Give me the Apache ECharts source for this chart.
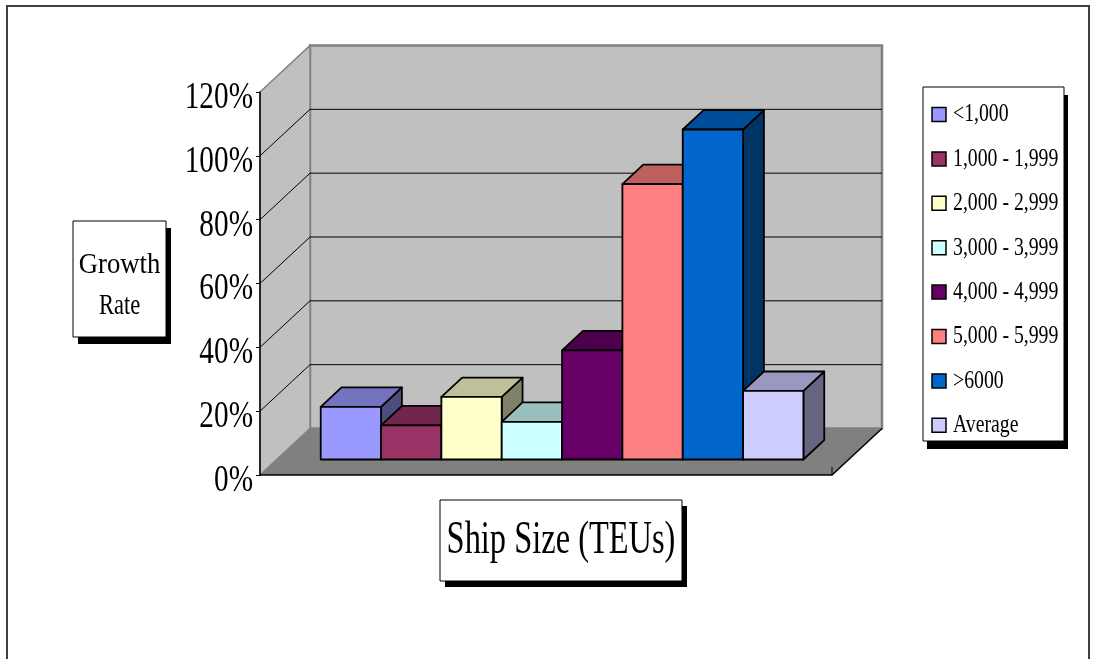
<!DOCTYPE html>
<html>
<head>
<meta charset="utf-8">
<title>Growth Rate by Ship Size</title>
<script src="https://cdn.jsdelivr.net/npm/echarts@6/dist/echarts.min.js"></script>
<style>
  html, body { margin: 0; padding: 0; background: #ffffff; }
  #chart { width: 1095px; height: 659px; }
</style>
</head>
<body>
<div id="chart"></div>
<script>
// ---- data ----
const shipSizes = ['<1,000', '1,000 - 1,999', '2,000 - 2,999', '3,000 - 3,999',
                   '4,000 - 4,999', '5,000 - 5,999', '>6000', 'Average'];
const growthRate = [0.165, 0.107, 0.196, 0.118, 0.342, 0.863, 1.034, 0.215];
const yTicks = [0, 0.2, 0.4, 0.6, 0.8, 1.0, 1.2];
const yTickLabels = ['0%', '20%', '40%', '60%', '80%', '100%', '120%'];
const yAxisTitle = ['Growth', 'Rate'];
const xAxisTitle = 'Ship Size (TEUs)';

// ---- styling ----
const barColors = ['#9999FF', '#993366', '#FFFFCC', '#CCFFFF',
                   '#660066', '#FF8080', '#0066CC', '#CCCCFF'];
const SERIF = '"Liberation Serif", "DejaVu Serif", serif';

// plot box extents in axis units (one unit = one bar width)
const X_MIN = -0.73, X_MAX = 8.75, Y_MAX = 1.2;
// oblique offset of the full box depth, in pixels
const DEPTH = { dx: 50, dy: -46.5 };
// bars occupy this slice of the depth
const BAR_FRONT = 1 / 3, BAR_BACK = 0.75;

function shade(hex, k) {
  const n = parseInt(hex.slice(1), 16);
  const r = Math.round(((n >> 16) & 255) * k);
  const g = Math.round(((n >> 8) & 255) * k);
  const b = Math.round((n & 255) * k);
  return 'rgb(' + r + ',' + g + ',' + b + ')';
}

function proj(api, x, v, d) {
  const p = api.coord([x, v]);
  return [p[0] + d * DEPTH.dx, p[1] + d * DEPTH.dy];
}

// walls, floor, gridlines and value labels of the 3-D box
function renderFrame(params, api) {
  const P = (x, v, d) => proj(api, x, v, d);
  const ch = [];
  ch.push({ type: 'polygon',
    shape: { points: [P(X_MIN, 0, 1), P(X_MAX, 0, 1), P(X_MAX, Y_MAX, 1), P(X_MIN, Y_MAX, 1)] },
    style: { fill: '#C0C0C0', stroke: '#808080', lineWidth: 2.5 } });
  ch.push({ type: 'polygon',
    shape: { points: [P(X_MIN, 0, 0), P(X_MIN, 0, 1), P(X_MIN, Y_MAX, 1), P(X_MIN, Y_MAX, 0)] },
    style: { fill: '#C0C0C0', stroke: '#808080', lineWidth: 1.5 } });
  yTicks.forEach(function (v) {
    if (v <= 0 || v >= Y_MAX) return;
    ch.push({ type: 'polyline',
      shape: { points: [P(X_MIN, v, 0), P(X_MIN, v, 1), P(X_MAX, v, 1)] },
      style: { fill: 'none', stroke: '#000000', lineWidth: 1 } });
  });
  ch.push({ type: 'polygon',
    shape: { points: [P(X_MIN, 0, 0), P(X_MAX, 0, 0), P(X_MAX, 0, 1), P(X_MIN, 0, 1)] },
    style: { fill: '#808080' } });
  ch.push({ type: 'polyline',
    shape: { points: [P(X_MIN, 0, 0), P(X_MAX, 0, 0), P(X_MAX, 0, 1)] },
    style: { fill: 'none', stroke: '#000000', lineWidth: 1.5 } });
  const e = P(X_MAX, 0, 0);
  ch.push({ type: 'line', shape: { x1: e[0], y1: e[1], x2: e[0], y2: e[1] - 8 },
    style: { fill: 'none', stroke: '#000000', lineWidth: 1 } });
  yTicks.forEach(function (v, k) {
    const p = P(X_MIN, v, 0);
    ch.push({ type: 'text', x: p[0] - 7, y: p[1] + 6, scaleX: 0.77,
      style: { text: yTickLabels[k], x: 0, y: 0, fill: '#000000',
        fontSize: 38, fontFamily: SERIF,
        align: 'right', verticalAlign: 'middle' } });
  });
  return { type: 'group', children: ch };
}

// one shaded box per ship size class
function renderBar(params, api) {
  const i = api.value(0), v = api.value(1);
  const P = (x, val, d) => proj(api, x, val, d);
  const c = barColors[params.dataIndex];
  const x0 = i, x1 = i + 1;
  const edge = { stroke: '#000000', lineWidth: 1.8, lineJoin: 'round' };
  return { type: 'group', children: [
    { type: 'polygon',
      shape: { points: [P(x1, 0, BAR_FRONT), P(x1, 0, BAR_BACK), P(x1, v, BAR_BACK), P(x1, v, BAR_FRONT)] },
      style: Object.assign({ fill: shade(c, 0.5) }, edge) },
    { type: 'polygon',
      shape: { points: [P(x0, v, BAR_FRONT), P(x1, v, BAR_FRONT), P(x1, v, BAR_BACK), P(x0, v, BAR_BACK)] },
      style: Object.assign({ fill: shade(c, 0.75) }, edge) },
    { type: 'polygon',
      shape: { points: [P(x0, 0, BAR_FRONT), P(x1, 0, BAR_FRONT), P(x1, v, BAR_FRONT), P(x0, v, BAR_FRONT)] },
      style: Object.assign({ fill: c }, edge) }
  ] };
}

function textEl(str, x, y, size, sx, align) {
  return { type: 'text', x: x, y: y, scaleX: sx, z: 20,
    style: { text: str, x: 0, y: 0, fill: '#000000', fontSize: size, fontFamily: SERIF,
      align: align, textAlign: align, verticalAlign: 'middle', textVerticalAlign: 'middle' } };
}

function shadowBox(x, y, w, h, ox, oy) {
  return [
    { type: 'rect', z: 18, shape: { x: x + ox, y: y + oy, width: w, height: h }, style: { fill: '#000000' } },
    { type: 'rect', z: 19, shape: { x: x, y: y, width: w, height: h },
      style: { fill: '#ffffff', stroke: '#000000', lineWidth: 1 } }
  ];
}

// legend panel
const legendEls = shadowBox(923, 87, 141, 354, 4, 8);
const LEG_Y0 = 114.5, LEG_STEP = 44.4;
shipSizes.forEach(function (name, k) {
  const cy = LEG_Y0 + k * LEG_STEP;
  legendEls.push({ type: 'rect', z: 20, shape: { x: 932, y: cy - 7, width: 14, height: 14 },
    style: { fill: barColors[k], stroke: '#000000', lineWidth: 1.5 } });
  legendEls.push(textEl(name, 953, cy, 26, 0.76, 'left'));
});

const graphicEls = [
  { type: 'polyline', z: 0, shape: { points: [[7, 700], [7, 6], [1089, 6], [1089, 700]] },
    style: { stroke: '#404040', lineWidth: 2, fill: 'none' } }
]
  .concat(shadowBox(73, 221, 93, 116, 5, 7))
  .concat([textEl(yAxisTitle[0], 119.5, 265, 30, 0.89, 'center'),
           textEl(yAxisTitle[1], 119.5, 306.5, 30, 0.75, 'center')])
  .concat(shadowBox(440, 500, 242, 81, 5, 6))
  .concat([textEl(xAxisTitle, 561, 541, 46, 0.705, 'center')])
  .concat(legendEls);

const chart = echarts.init(document.getElementById('chart'));
chart.setOption({
  animation: false,
  backgroundColor: '#ffffff',
  grid: { left: 260, top: 92, width: 572, height: 383, containLabel: false, outerBoundsMode: 'none' },
  xAxis: { type: 'value', min: X_MIN, max: X_MAX, show: false },
  yAxis: {
    type: 'value', min: 0, max: Y_MAX, interval: 0.2, z: 5,
    axisLine: { show: true, onZero: false, lineStyle: { color: '#000000', width: 1.5 } },
    axisTick: { show: true, length: 4, lineStyle: { color: '#000000', width: 1 } },
    axisLabel: { show: false },
    splitLine: { show: false }
  },
  series: [
    { type: 'custom', name: 'frame', z: 1, clip: false, silent: true,
      data: [[0, 0]], renderItem: renderFrame },
    { type: 'custom', name: 'Growth Rate', z: 3, clip: false,
      data: growthRate.map(function (v, i) { return [i, v]; }),
      renderItem: renderBar }
  ],
  graphic: { elements: graphicEls }
});
</script>
</body>
</html>
